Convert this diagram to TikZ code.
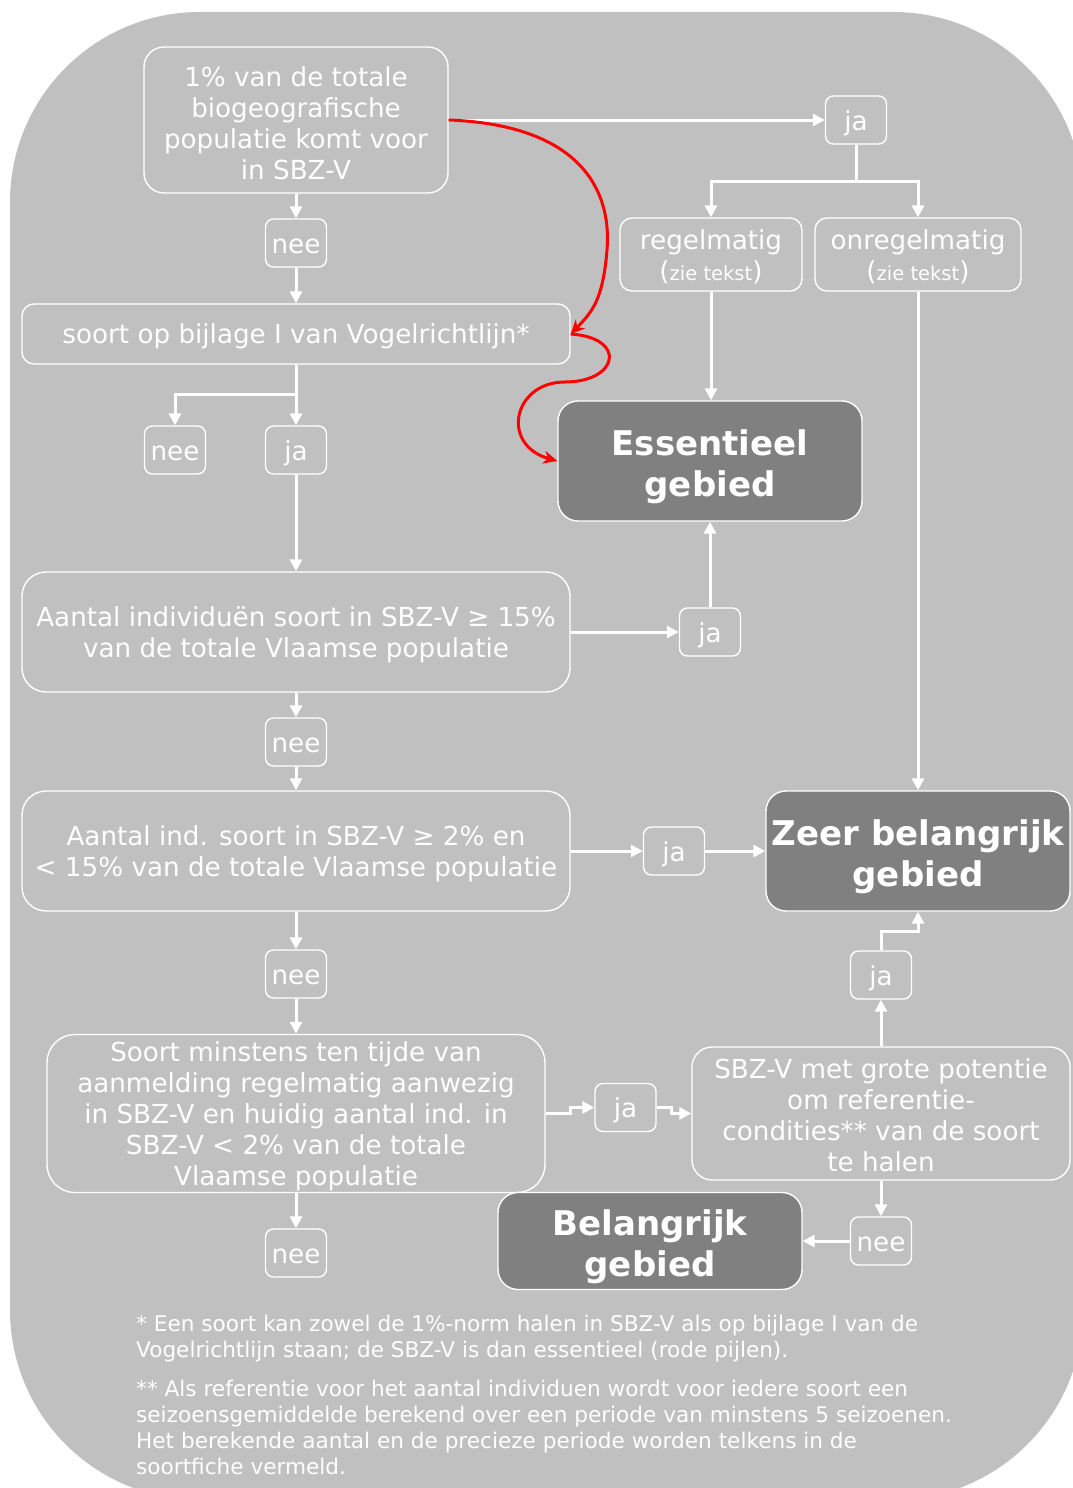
\documentclass[tikz,border=0pt]{standalone}
\usepackage{fontspec}
\setmainfont{DejaVu Sans}
\usetikzlibrary{arrows.meta}
\definecolor{achtergrond}{HTML}{C0C0C0}
\definecolor{donker}{HTML}{808080}
\definecolor{rood}{HTML}{FF0000}

\begin{document}
\begin{tikzpicture}[x=1pt,y=-1pt,
  every node/.style={text=white,font=\fontsize{26.2}{31}\selectfont},
  box/.style={draw=white,line width=1.4pt,rounded corners=20pt,align=center,
    inner sep=0pt,text depth=0pt},
  keuze/.style={box,rounded corners=8pt,minimum width=61pt,minimum height=48pt,
    text height=20pt},
  gebied/.style={box,fill=donker,font=\bfseries\fontsize{34}{41}\selectfont,
    text height=71pt},
  pijl/.style={draw=white,line width=3pt,-{Triangle[length=12pt,width=12pt]}},
  rodepijl/.style={draw=rood,line width=3pt,-{Stealth[length=14pt,width=13pt]}},
  voet/.style={anchor=north west,align=left,inner sep=0pt,
    font=\fontsize{21.6}{26}\selectfont}]
 \useasboundingbox (0,0) rectangle (1072,1488);
 \fill[achtergrond,rounded corners=190pt] (10,12) rectangle (1083,1500);

 \node[box,minimum width=304pt,minimum height=146pt,text height=119pt]
   (procent) at (296,120)
   {1\% van de totale\\biogeografische\\populatie komt voor\\in SBZ-V};
 \node[keuze] (nee1) at (296,243) {nee};
 \node[box,minimum width=548pt,minimum height=60pt,rounded corners=12pt]
   (bijlage) at (296,334) {soort op bijlage I van Vogelrichtlijn*};
 \node[keuze] (nee2) at (175,450) {nee};
 \node[keuze] (ja1) at (296,450) {ja};
 \node[box,minimum width=548pt,minimum height=120pt,rounded corners=24pt]
   (vijftien) at (296,632)
   {Aantal individuën soort in SBZ-V ≥ 15\%\\van de totale Vlaamse populatie};
 \node[keuze] (ja2) at (710,632) {ja};
 \node[gebied,minimum width=304pt,minimum height=120pt] (essentieel)
   at (710,461) {Essentieel\\gebied};
 \node[keuze] (ja3) at (856,120) {ja};
 \node[box,minimum width=182pt,minimum height=73pt,rounded corners=12pt,
   text height=52.5pt] (regel) at (711,254.5)
   {regelmatig\\({\fontsize{19.5}{20}\selectfont zie tekst})};
 \node[box,minimum width=206pt,minimum height=73pt,rounded corners=12pt,
   text height=52.5pt] (onregel) at (918,254.5)
   {onregelmatig\\({\fontsize{19.5}{20}\selectfont zie tekst})};
 \node[keuze] (nee3) at (296,742) {nee};
 \node[box,minimum width=548pt,minimum height=120pt,rounded corners=24pt]
   (twee) at (296,851)
   {Aantal ind. soort in SBZ-V ≥ 2\% en\\< 15\% van de totale Vlaamse populatie};
 \node[keuze] (ja4) at (674,851) {ja};
 \node[gebied,minimum width=304pt,minimum height=120pt] (zeer) at (918,851)
   {Zeer belangrijk\\gebied};
 \node[keuze] (nee4) at (296,974) {nee};
 \node[keuze] (ja5) at (881,975) {ja};
 \node[box,minimum width=498pt,minimum height=158pt,rounded corners=28pt]
   (minstens) at (296,1113.5)
   {Soort minstens ten tijde van\\aanmelding regelmatig aanwezig\\in SBZ-V en
    huidig aantal ind. in\\SBZ-V < 2\% van de totale\\Vlaamse populatie};
 \node[keuze] (ja6) at (625.5,1107.5) {ja};
 \node[box,minimum width=378pt,minimum height=133pt,text height=115pt]
   (potentie) at (881,1113.5)
   {SBZ-V met grote potentie\\om referentie-\\condities** van de soort\\te halen};
 \node[keuze] (nee5) at (881,1241) {nee};
 \node[gebied,minimum width=304pt,minimum height=97pt] (belangrijk)
   at (650,1241) {Belangrijk\\gebied};
 \node[keuze] (nee6) at (296,1253) {nee};

 \draw[pijl] (procent) -- (ja3);
 \draw[pijl] (ja3.south) -- ++(0,37) -| (regel);
 \draw[pijl] (ja3.south) -- ++(0,37) -| (onregel);
 \draw[pijl] (regel.south) -- (regel.south |- essentieel.north);
 \draw[pijl] (onregel.south) -- (onregel.south |- zeer.north);
 \draw[pijl] (procent) -- (nee1);
 \draw[pijl] (nee1) -- (bijlage);
 \draw[pijl] (bijlage.south) -- ++(0,30) -| (nee2);
 \draw[pijl] (bijlage) -- (ja1);
 \draw[pijl] (ja1) -- (vijftien);
 \draw[pijl] (vijftien) -- (ja2);
 \draw[pijl] (ja2) -- (essentieel);
 \draw[pijl] (vijftien) -- (nee3);
 \draw[pijl] (nee3) -- (twee);
 \draw[pijl] (twee) -- (ja4);
 \draw[pijl] (ja4) -- (zeer);
 \draw[pijl] (twee) -- (nee4);
 \draw[pijl] (nee4) -- (minstens);
 \draw[pijl] (minstens) -- (nee6);
 \draw[pijl] (minstens.east) -- ++(25,0) -- ++(0,-6) -- (ja6.west);
 \draw[pijl] (ja6.east) -- ++(15,0) -- ++(0,6) -- (potentie.west);
 \draw[pijl] (potentie) -- (ja5);
 \draw[pijl] (ja5.north) -- ++(0,-19) -| (zeer.south);
 \draw[pijl] (potentie) -- (nee5);
 \draw[pijl] (nee5) -- (belangrijk);

 \draw[rodepijl] (procent.east) .. controls (580,125) and (612,190) .. (607,250)
   .. controls (603,300) and (592,312) .. (bijlage.east);
 \draw[rodepijl] (bijlage.east) .. controls (628,338) and (618,382) .. (565,382)
   .. controls (513,382) and (500,445) .. (essentieel.west);

 \node[voet] (noot1) at (136,1315)
   {* Een soort kan zowel de 1\%-norm halen in SBZ-V als op bijlage I van de\\
    Vogelrichtlijn staan; de SBZ-V is dan essentieel (rode pijlen).};
 \node[voet] (noot2) at (136,1380)
   {** Als referentie voor het aantal individuen wordt voor iedere soort een\\
    seizoensgemiddelde berekend over een periode van minstens 5 seizoenen.\\
    Het berekende aantal en de precieze periode worden telkens in de\\
    soortfiche vermeld.};
\end{tikzpicture}
\end{document}
